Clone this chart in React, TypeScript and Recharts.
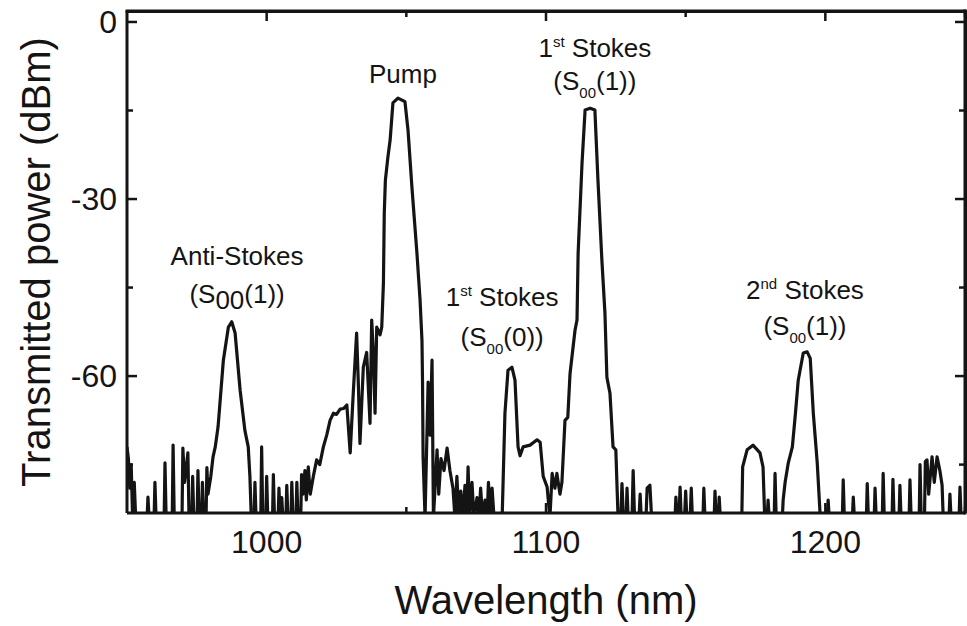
import { LineChart, Line, XAxis, YAxis, ReferenceDot } from 'recharts';

const FONT = '"Liberation Sans", Arial, Helvetica, sans-serif';
const INK = '#141414';

// spectrum: wavelength (nm) / transmitted power (dBm)
const wavelength = [
  950.0, 950.5, 951.0, 951.5, 952.0, 952.6, 953.1, 957.2, 957.5, 957.9,
  959.7, 960.0, 960.4, 963.3, 963.6, 964.0, 966.2, 966.5, 966.9, 969.7,
  970.0, 970.6, 971.8, 972.2, 973.2, 973.5, 973.9, 975.1, 975.4, 975.8,
  976.7, 977.0, 977.4, 978.3, 978.6, 979.0, 980.0, 980.8, 981.6, 982.6,
  984.5, 986.3, 987.5, 988.7, 990.5, 992.2, 993.4, 994.0, 994.5, 995.5,
  995.8, 996.2, 997.9, 998.2, 998.6, 999.7, 1000.0, 1000.4, 1002.1, 1002.4,
  1002.8, 1004.1, 1004.4, 1004.8, 1005.4, 1005.8, 1006.9, 1007.2, 1007.6, 1008.7,
  1009.0, 1009.4, 1010.5, 1010.8, 1011.2, 1012.2, 1012.5, 1013.0, 1013.7, 1014.2,
  1014.9, 1015.6, 1016.7, 1017.9, 1019.0, 1020.3, 1021.5, 1022.7, 1023.9, 1025.0,
  1026.3, 1027.5, 1028.7, 1029.9, 1031.0, 1032.2, 1032.8, 1033.4, 1034.6, 1035.8,
  1037.0, 1037.6, 1038.2, 1038.8, 1039.4, 1040.6, 1041.2, 1041.8, 1042.1, 1042.5,
  1043.4, 1044.2, 1045.2, 1047.0, 1049.5, 1050.6, 1052.0, 1053.8, 1054.9, 1055.6,
  1055.8, 1056.0, 1056.7, 1057.8, 1058.5, 1059.2, 1059.7, 1061.0, 1061.6, 1062.4,
  1063.5, 1064.6, 1065.6, 1066.7, 1067.4, 1068.1, 1068.8, 1069.5, 1070.2, 1071.0,
  1071.6, 1072.1, 1072.7, 1073.5, 1074.2, 1075.3, 1076.0, 1076.6, 1077.3, 1078.2,
  1078.9, 1079.4, 1080.1, 1080.7, 1081.4, 1084.3, 1085.3, 1086.4, 1087.8, 1088.9,
  1090.0, 1090.7, 1091.8, 1094.3, 1096.8, 1097.9, 1099.0, 1100.4, 1101.4, 1102.2,
  1103.2, 1103.9, 1105.0, 1105.7, 1106.8, 1107.8, 1108.6, 1110.4, 1111.1, 1111.5,
  1112.9, 1114.0, 1115.8, 1117.5, 1118.6, 1120.0, 1121.1, 1121.8, 1122.9, 1124.0,
  1125.0, 1125.8, 1126.8, 1127.2, 1127.7, 1128.7, 1129.0, 1129.4, 1130.8, 1131.2,
  1131.7, 1133.3, 1133.7, 1134.1, 1135.8, 1136.2, 1137.2, 1137.8, 1146.2, 1146.5,
  1146.9, 1147.6, 1148.0, 1148.4, 1149.6, 1150.0, 1150.4, 1151.6, 1152.0, 1152.4,
  1156.2, 1156.5, 1156.9, 1160.2, 1160.5, 1160.9, 1161.7, 1162.0, 1162.4, 1170.1,
  1170.4, 1172.0, 1174.1, 1176.6, 1177.7, 1178.3, 1179.2, 1179.5, 1179.9, 1181.7,
  1182.0, 1182.4, 1184.6, 1184.9, 1185.6, 1186.7, 1188.2, 1189.3, 1190.3, 1192.1,
  1193.5, 1194.6, 1195.7, 1197.1, 1198.2, 1200.7, 1201.0, 1201.4, 1206.1, 1206.4,
  1206.8, 1209.7, 1210.0, 1210.4, 1214.7, 1215.0, 1215.4, 1217.5, 1217.8, 1218.2,
  1220.4, 1220.7, 1221.1, 1223.9, 1224.2, 1224.6, 1226.4, 1226.7, 1227.1, 1230.0,
  1230.3, 1230.7, 1233.6, 1233.9, 1234.3, 1235.5, 1235.8, 1236.4, 1237.0, 1238.2,
  1239.0, 1240.0, 1241.0, 1241.8, 1242.2, 1244.3, 1244.6, 1245.0, 1247.9, 1248.2,
  1248.6, 1250.0,
];

const power = [
  -72, -74, -79, -75, -84, -78, -84, -84, -80.5, -84,
  -84, -78, -84, -84, -74.7, -84, -84, -71.7, -84, -84,
  -72.2, -78, -73, -84, -84, -77, -84, -84, -76, -84,
  -84, -78, -84, -84, -75.5, -80, -77, -73.7, -72, -68.6,
  -57.3, -51.7, -50.8, -52.7, -62.4, -69.2, -72, -77, -84, -84,
  -78, -84, -84, -72, -84, -84, -77, -84, -84, -76.7,
  -84, -84, -79, -84, -80.6, -84, -84, -78.5, -84, -84,
  -78, -84, -84, -78, -84, -84, -76.7, -80, -76, -81,
  -75.4, -80, -77, -74.2, -75, -72, -70, -67.5, -66.3, -66.5,
  -65.6, -65.5, -64.9, -73, -62.9, -52.7, -61, -71.4, -58.5, -56,
  -68, -50.5, -56, -66.3, -51.7, -53, -51.7, -44.2, -32.4, -26.8,
  -22.9, -20, -13.7, -12.9, -13.5, -18.3, -28, -39.2, -47, -54,
  -61, -73.7, -84, -61, -70, -57.3, -84, -72.5, -80, -74,
  -76, -72.2, -76, -79, -84, -77, -84, -79.5, -84, -78.5,
  -84, -75.4, -84, -78, -84, -80.6, -84, -79, -84, -81,
  -84, -78, -84, -79, -84, -84, -66.3, -59, -58.5, -60.7,
  -72, -73.5, -72, -71.7, -70.8, -71.2, -77, -78.8, -84, -76.5,
  -79, -76.5, -80, -78, -67.5, -67, -59.6, -52.2, -50.5, -39.2,
  -23.9, -14.9, -14.6, -14.9, -26.8, -40.3, -49.3, -60.2, -62.9, -72,
  -72.5, -84, -84, -78.2, -84, -84, -79, -84, -84, -76,
  -84, -84, -80, -84, -84, -79, -78.5, -84, -84, -80.5,
  -84, -84, -78.8, -84, -84, -79.5, -84, -84, -79, -84,
  -84, -79, -84, -84, -79.5, -84, -84, -80.5, -84, -84,
  -75.4, -72.5, -71.7, -73, -75.4, -84, -84, -81, -84, -84,
  -76.5, -84, -84, -81, -78, -74.8, -72, -66.3, -60.7, -56.1,
  -55.9, -57, -66.3, -74.7, -84, -84, -81, -84, -84, -77.6,
  -84, -84, -80.5, -84, -84, -78.2, -84, -84, -79, -84,
  -84, -76.5, -84, -84, -77.5, -84, -84, -78.5, -84, -84,
  -77.6, -84, -84, -75, -84, -84, -74.5, -74.2, -80, -73.7,
  -78, -73.7, -76, -78.5, -84, -84, -80, -84, -84, -78.8,
  -84, -83,
];

const xTicks = [1000, 1050, 1100, 1150, 1200, 1250];
const xMajor = [1000, 1100, 1200];
const yTicks = [0, -15, -30, -45, -60, -75];
const yMajor = [0, -30, -60];

// peak annotations: anchor (nm, dBm), label text
const notes = [
  { x: 989.4, y: -39.7, head: 'Anti-Stokes', sup: '', sub: '00', tail: '(1))', bigSub: true, gap: 38 },
  { x: 1048.8, y: -8.8, head: 'Pump', sup: null, sub: '', tail: '', bigSub: false, gap: 0 },
  { x: 1117.5, y: -4.4, head: '1', sup: 'st', sub: '00', tail: '(1))', bigSub: false, gap: 33 },
  { x: 1084.3, y: -46.6, head: '1', sup: 'st', sub: '00', tail: '(0))', bigSub: false, gap: 40 },
  { x: 1192.7, y: -45.4, head: '2', sup: 'nd', sub: '00', tail: '(1))', bigSub: false, gap: 36 },
];

const X_DOMAIN: [number, number] = [950, 1250];
const Y_DOMAIN: [number, number] = [-83.2, 1.86];
const W = 967;
const H = 626;
const MARGIN = { top: 11, right: 2, bottom: 0, left: 0 };
const X_AXIS_H = 113;
const Y_AXIS_W = 127;

// plot box, derived from the chart margins and axis sizes
const PX = MARGIN.left + Y_AXIS_W;
const PY = MARGIN.top;
const PW = W - MARGIN.left - MARGIN.right - Y_AXIS_W;
const PH = H - MARGIN.top - MARGIN.bottom - X_AXIS_H;

const data = wavelength.map((w, i) => ({ w, p: power[i] }));

function BottomTick({ x, y, payload }: any) {
  const major = xMajor.includes(payload.value);
  return (
    <g>
      <line x1={x} x2={x} y1={y} y2={y - (major ? 10 : 6)} stroke={INK} strokeWidth={2.5} />
      {major && (
        <text x={x} y={y + 29} dy="0.35em" textAnchor="middle" fontSize={32} fontFamily={FONT} fill={INK}>
          {payload.value}
        </text>
      )}
    </g>
  );
}

function LeftTick({ x, y, payload }: any) {
  const major = yMajor.includes(payload.value);
  return (
    <g>
      <line x1={x} x2={x + (major ? 10 : 6)} y1={y} y2={y} stroke={INK} strokeWidth={2.5} />
      {major && (
        <text x={x - 10} y={y} dy="0.35em" textAnchor="end" fontSize={32} fontFamily={FONT} fill={INK}>
          {payload.value}
        </text>
      )}
    </g>
  );
}

// mirrored inward ticks on the top and right edges
function MirrorTicks() {
  const sx = (v: number) => PX + ((v - X_DOMAIN[0]) / (X_DOMAIN[1] - X_DOMAIN[0])) * PW;
  const sy = (v: number) => PY + ((Y_DOMAIN[1] - v) / (Y_DOMAIN[1] - Y_DOMAIN[0])) * PH;
  return (
    <svg width={W} height={H} style={{ position: 'absolute', left: 0, top: 0, zIndex: 3, pointerEvents: 'none' }}>
      <line x1={PX} x2={PX + PW} y1={PY} y2={PY} stroke={INK} strokeWidth={3} strokeLinecap="square" />
      <line x1={PX + PW} x2={PX + PW} y1={PY} y2={PY + PH} stroke={INK} strokeWidth={3} strokeLinecap="square" />
      {xTicks.map((v) => (
        <line key={`t${v}`} x1={sx(v)} x2={sx(v)} y1={PY} y2={PY + (xMajor.includes(v) ? 10 : 6)} stroke={INK} strokeWidth={2.5} />
      ))}
      {yTicks.map((v) => (
        <line key={`r${v}`} x1={PX + PW} x2={PX + PW - (yMajor.includes(v) ? 10 : 6)} y1={sy(v)} y2={sy(v)} stroke={INK} strokeWidth={2.5} />
      ))}
    </svg>
  );
}

function NoteLabel({ viewBox, note }: any) {
  const cx = viewBox.x + (viewBox.width || 0) / 2;
  const cy = viewBox.y + (viewBox.height || 0) / 2;
  const t = { fontSize: 26, fontFamily: FONT, fill: INK, textAnchor: 'middle' as const };
  return (
    <g>
      <text x={cx} y={cy} dy="0.35em" {...t}>
        {note.head}
        {note.sup !== null && note.sup !== '' && (
          <tspan fontSize={15} dy={-10}>{note.sup}</tspan>
        )}
        {note.sup !== null && note.sup !== '' && <tspan dy={10}> Stokes</tspan>}
      </text>
      {note.tail && (
        <text x={cx} y={cy + note.gap} dy="0.35em" {...t}>
          (S
          <tspan fontSize={note.bigSub ? 26 : 15} dy={note.bigSub ? 6 : 8}>{note.sub}</tspan>
          <tspan dy={note.bigSub ? -6 : -8}>{note.tail}</tspan>
        </text>
      )}
    </g>
  );
}

function YTitle({ viewBox }: any) {
  const cy = viewBox.y + viewBox.height / 2;
  return (
    <text x={36} y={cy} transform={`rotate(-90 36 ${cy})`} dy="0.35em" textAnchor="middle" fontSize={40} fontFamily={FONT} fill={INK}>
      Transmitted power (dBm)
    </text>
  );
}

function XTitle({ viewBox }: any) {
  const cx = viewBox.x + viewBox.width / 2;
  return (
    <text x={cx} y={viewBox.y + 87} dy="0.35em" textAnchor="middle" fontSize={40} fontFamily={FONT} fill={INK}>
      Wavelength (nm)
    </text>
  );
}

export default function App() {
  const axisLine = { stroke: INK, strokeWidth: 3 };
  return (
    <div style={{ position: 'absolute', left: 0, top: 0, width: W, height: H, background: '#fff' }}>
      <LineChart width={W} height={H} data={data} margin={MARGIN}>
        <XAxis
          xAxisId="bottom"
          dataKey="w"
          type="number"
          domain={X_DOMAIN}
          allowDataOverflow
          ticks={xTicks}
          interval={0}
          height={X_AXIS_H}
          tickSize={0}
          tickMargin={0}
          tickLine={false}
          axisLine={axisLine}
          tick={<BottomTick />}
          label={(p: any) => <XTitle viewBox={p.viewBox} />}
        />
        <YAxis
          yAxisId="left"
          type="number"
          domain={Y_DOMAIN}
          allowDataOverflow
          ticks={yTicks}
          interval={0}
          width={Y_AXIS_W}
          tickSize={0}
          tickMargin={0}
          tickLine={false}
          axisLine={axisLine}
          tick={<LeftTick />}
          label={(p: any) => <YTitle viewBox={p.viewBox} />}
        />
        <Line
          xAxisId="bottom"
          yAxisId="left"
          dataKey="p"
          type="linear"
          stroke={INK}
          strokeWidth={3.2}
          strokeLinejoin="round"
          dot={false}
          isAnimationActive={false}
        />
        {notes.map((n, i) => (
          <ReferenceDot
            key={i}
            xAxisId="bottom"
            yAxisId="left"
            x={n.x}
            y={n.y}
            r={1}
            fill="none"
            stroke="none"
            label={(p: any) => <NoteLabel viewBox={p.viewBox} note={n} />}
          />
        ))}
      </LineChart>
      {/* plain border box as a second way to draw the top/right frame */}
      <div
        style={{
          position: 'absolute',
          left: PX - 1.5,
          top: PY - 1.5,
          width: PW + 3,
          height: PH + 1.5,
          boxSizing: 'border-box',
          borderTop: `3px solid ${INK}`,
          borderRight: `3px solid ${INK}`,
          zIndex: 2,
          pointerEvents: 'none',
        }}
      />
      <MirrorTicks />
    </div>
  );
}
